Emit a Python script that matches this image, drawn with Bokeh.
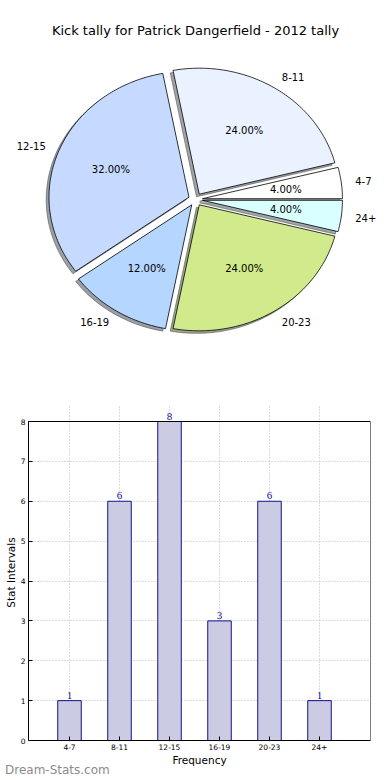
import numpy as np
from bokeh.plotting import figure
from bokeh.models import Range1d, Label, LabelSet, ColumnDataSource, FixedTicker, Div
from bokeh.core.properties import value
from bokeh.embed import file_html
from bokeh.resources import INLINE

# ---------------- data ----------------
title = "Kick tally for Patrick Dangerfield - 2012 tally"
categories = ["4-7", "8-11", "12-15", "16-19", "20-23", "24+"]
counts = [1, 6, 8, 3, 6, 1]
pie_colors = ["#ffffff", "#eaf2ff", "#c6d9ff", "#b5d6ff", "#d0ea8c", "#d9ffff"]
explode = [0.05, 0.05, 0.05, 0.05, 0.05, 0.05]
y_ticks = [0, 1, 2, 3, 4, 5, 6, 7, 8]
x_label = "Frequency"
y_label = "Stat Intervals"
watermark = "Dream-Stats.com"

FONT = "DejaVu Sans"
W = 376
H1 = 400
H2 = 380

# ---------------- pie ----------------
sx_px, sy_px = 140.0, 126.0   # pixels per unit radius (elliptical pie)
cx, cy = 195.0, 199.0          # pie centre in figure pixels (from left / top)

p1 = figure(width=W, height=H1, output_backend="svg", toolbar_location=None,
            x_range=Range1d(-cx / sx_px, (W - cx) / sx_px),
            y_range=Range1d(-(H1 - cy) / sy_px, cy / sy_px),
            x_axis_type=None, y_axis_type=None, min_border=0)
p1.grid.visible = False
p1.outline_line_color = None

vals = np.array(counts, dtype=float)
frac = vals / vals.sum()
edges = np.concatenate([[0.0], np.cumsum(frac)]) * 2 * np.pi

wx, wy, shx, shy, shc = [], [], [], [], []
lab_x, lab_y, lab_align, pct_x, pct_y, pct_txt = [], [], [], [], [], []
for i in range(len(vals)):
    t1, t2 = edges[i], edges[i + 1]
    tm = 0.5 * (t1 + t2)
    ox, oy = explode[i] * np.cos(tm), explode[i] * np.sin(tm)
    n = max(int(np.degrees(t2 - t1)) + 2, 4)
    t = np.linspace(t1, t2, n)
    xx = np.concatenate([[0.0], np.cos(t), [0.0]]) + ox
    yy = np.concatenate([[0.0], np.sin(t), [0.0]]) + oy
    wx.append(list(xx)); wy.append(list(yy))
    shx.append(list(xx - 0.02)); shy.append(list(yy - 0.02))
    h = pie_colors[i].lstrip("#")
    r, g, b = (int(h[k:k + 2], 16) for k in (0, 2, 4))
    shc.append("#%02x%02x%02x" % (int(r * 0.3), int(g * 0.3), int(b * 0.3)))
    lx, ly = ox + 1.1 * np.cos(tm), oy + 1.1 * np.sin(tm)
    lab_x.append(lx); lab_y.append(ly)
    lab_align.append("left" if lx > 0 else "right")
    pct_x.append(ox + 0.6 * np.cos(tm)); pct_y.append(oy + 0.6 * np.sin(tm))
    pct_txt.append("%.2f%%" % (frac[i] * 100))

p1.patches(shx, shy, fill_color=shc, fill_alpha=0.5, line_color=shc, line_alpha=0.5, line_width=1)
p1.patches(wx, wy, fill_color=pie_colors, line_color="#000000", line_width=0.8)

lab_src = ColumnDataSource(dict(x=lab_x, y=lab_y, text=categories, align=lab_align))
p1.text(x="x", y="y", text="text", source=lab_src, text_align="align", text_baseline="middle",
        text_font=value(FONT), text_font_size="10px", text_color="#000000")
pct_src = ColumnDataSource(dict(x=pct_x, y=pct_y, text=pct_txt))
p1.text(x="x", y="y", text="text", source=pct_src, text_align="center", text_baseline="middle",
        text_font=value(FONT), text_font_size="10px", text_color="#000000")

p1.add_layout(Label(x=cx, y=H1 - 30, x_units="screen", y_units="screen", text=title,
                    text_align="center", text_baseline="middle", text_font=FONT,
                    text_font_size="13px", text_color="#000000"))

# ---------------- bars ----------------
BL = 28                  # left border (room for y axis)
BR = W - 370             # frame right edge at x = 370
FW = W - BL - BR
xpos = list(range(len(categories)))
ymax = y_ticks[-1]
px_per_cat = 50.0
x0_px = 69 - BL                         # first category, pixels from frame left
xr = Range1d(-x0_px / px_per_cat, (FW - x0_px) / px_per_cat)
px_per_y = 319.0 / ymax
frame_h = 336.0
yr = Range1d(0, frame_h / px_per_y)     # head-room so the top value label shows

p2 = figure(width=W, height=H2, output_backend="svg", toolbar_location=None,
            x_range=xr, y_range=yr,
            min_border_left=BL, min_border_right=BR, min_border_top=4,
            min_border_bottom=H2 - 4 - int(frame_h))
bar_src = ColumnDataSource(dict(x=xpos, top=counts, text=[str(c) for c in counts]))
p2.vbar(x="x", top="top", width=0.47, source=bar_src, fill_color="#cbcbe3",
        line_color="#10108c", line_width=1)
p2.add_layout(LabelSet(x="x", y="top", text="text", source=bar_src, text_align="center",
                       text_baseline="bottom", y_offset=2, text_font=FONT,
                       text_font_size="11px", text_color="#1010a8"))
p2.quad(left=[xr.start], right=[xr.end], bottom=[0], top=[ymax], fill_color=None,
        line_color="#000000", line_width=1)

p2.xaxis.ticker = FixedTicker(ticks=xpos)
p2.xaxis.major_label_overrides = {i: c for i, c in enumerate(categories)}
p2.yaxis.ticker = FixedTicker(ticks=y_ticks)
p2.yaxis.bounds = (0, ymax)
p2.xgrid.ticker = FixedTicker(ticks=xpos)
p2.xgrid.bounds = (0, ymax)
p2.ygrid.ticker = FixedTicker(ticks=y_ticks)
for ax in (p2.xaxis, p2.yaxis):
    ax.major_tick_in = 4
    ax.major_tick_out = 0
    ax.minor_tick_line_color = None
    ax.axis_line_color = "#000000"
    ax.major_tick_line_color = "#000000"
    ax.major_label_text_font = FONT
    ax.major_label_text_font_size = "7.5px"
    ax.major_label_text_color = "#000000"
    ax.major_label_standoff = 3
    ax.axis_label_text_font = FONT
    ax.axis_label_text_font_style = "normal"
    ax.axis_label_text_font_size = "10.5px"
    ax.axis_label_text_color = "#000000"
    ax.axis_label_standoff = 1
p2.xaxis.axis_label = x_label
p2.yaxis.axis_label = y_label
p2.grid.grid_line_color = "#b8b8b8"
p2.grid.grid_line_dash = "1 2"
p2.grid.grid_line_width = 1
p2.outline_line_color = None

wm = Div(text=watermark, width=120, height=12,
         styles={"margin-top": "-16px", "font-family": FONT,
                 "font-size": "12px", "line-height": "12px", "color": "#8c8c8c"})

open("out.html", "w").write(file_html([p1, p2, wm], INLINE))
